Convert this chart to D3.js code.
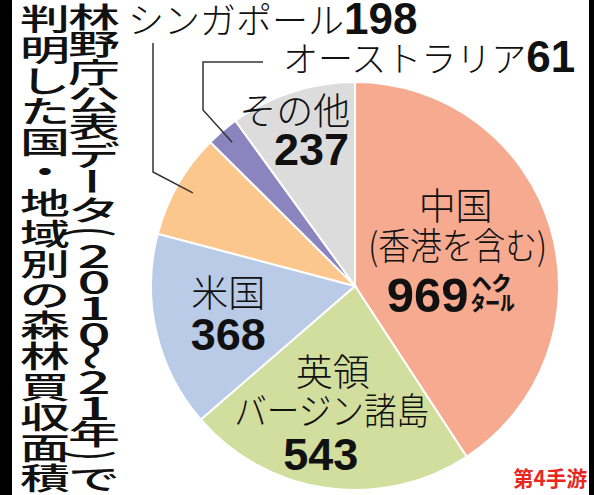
<!DOCTYPE html>
<html>
<head>
<meta charset="utf-8">
<script src="https://cdn.jsdelivr.net/npm/d3@7"></script>
<style>
body { margin: 0; background: #fff; }
svg { display: block; }
</style>
</head>
<body>
<svg></svg>
<script>
var width = 594,
	height = 495;

// data (ha, 2010-21)
var names = ["中国", "英領バージン諸島", "米国", "シンガポール", "オーストラリア", "その他"];
var values = [969, 543, 368, 198, 61, 237];
var colors = ["#f6aa90", "#d2de9d", "#b9cbe7", "#fcc78c", "#8b84bf", "#dcdcdc"];
var titleRight = "林野庁公表データ(2010〜21年)で";
var titleLeft = "判明した国・地域別の森林買収面積";
var unit = ["ヘク", "タール"];
var watermark = "第4手游";

var cx = 355,
	cy = 286,
	radius = 204;

var svg = d3.select("svg").attr("width", width).attr("height", height);

svg.append("rect").attr("width", width).attr("height", height).attr("fill", "#fff");
// black strips on both edges
svg.append("rect").attr("x", 0).attr("width", 12).attr("height", height).attr("fill", "#000");
svg.append("rect").attr("x", 589).attr("width", 5).attr("height", height).attr("fill", "#000");

var data = names.map(function (n, i) {
	return { name: n, value: values[i], color: colors[i] };
});

var pie = d3.pie().sort(null).value(function (d) { return d.value; });
var arcs = pie(data);
var arc = d3.arc().innerRadius(0).outerRadius(radius);

var g = svg.append("g").attr("transform", "translate(" + cx + "," + cy + ")");

g.selectAll("path.slice")
	.data(arcs)
	.enter()
	.append("path")
	.attr("class", "slice")
	.attr("d", arc)
	.attr("fill", function (d) { return d.data.color; })
	.attr("stroke", "#fff")
	.attr("stroke-width", 2);

var jp = "'Noto Sans CJK JP', sans-serif";
var num = "'Liberation Sans', Arial, sans-serif";

// label layout: radius of anchor point + line offsets from it
var inside = {
	"中国": { r: 105, lines: [
		{ t: "中国", dx: 0, dy: -36 },
		{ t: "(香港を含む)", dx: 2, dy: 4, len: 179 },
		{ t: "969", dx: -69, dy: 56, bold: true, anchor: "start", size: 49 }
	] },
	"英領バージン諸島": { r: 125, lines: [
		{ t: "英領", dx: -5, dy: -24 },
		{ t: "バージン諸島", dx: -6, dy: 15, len: 195 },
		{ t: "543", dx: -17, dy: 60, bold: true }
	] },
	"米国": { r: 130, lines: [
		{ t: "米国", dx: 0, dy: -8 },
		{ t: "368", dx: 0, dy: 35, bold: true }
	] },
	"その他": { r: 165, lines: [
		{ t: "その他", dx: 46, dy: -4, anchor: "end" },
		{ t: "237", dx: 45, dy: 36, bold: true, anchor: "end" }
	] }
};

arcs.forEach(function (d) {
	var spec = inside[d.data.name];
	if (!spec) return;
	var c = d3.arc().innerRadius(spec.r).outerRadius(spec.r).centroid(d);
	spec.lines.forEach(function (l) {
		var t = g.append("text")
			.attr("x", c[0] + l.dx)
			.attr("y", c[1] + l.dy)
			.attr("text-anchor", l.anchor || "middle")
			.style("font-family", l.bold ? num : jp)
			.style("font-weight", l.bold ? 700 : 300)
			.style("font-size", (l.size || (l.bold ? 45 : 37)) + "px")
			.style("fill", "#111")
			.text(l.t);
		if (l.len) t.attr("textLength", l.len).attr("lengthAdjust", "spacingAndGlyphs");
	});
	if (d.data.name == "中国") {
		// unit "ヘクタール" stacked in two rows after the number
		g.append("text")
			.attr("x", c[0] + 16).attr("y", c[1] + 35)
			.attr("textLength", 40).attr("lengthAdjust", "spacingAndGlyphs")
			.style("font-family", jp).style("font-weight", 900).style("font-size", "20px")
			.style("fill", "#111").text(unit[0]);
		g.append("text")
			.attr("x", c[0] + 15).attr("y", c[1] + 55)
			.attr("textLength", 44).attr("lengthAdjust", "spacingAndGlyphs")
			.style("font-family", jp).style("font-weight", 900).style("font-size", "20px")
			.style("fill", "#111").text(unit[1]);
	}
});

// outside labels with leader lines
var outside = {
	"シンガポール": { r: 187, elbows: [[153 - cx, 172 - cy], [153 - cx, 43 - cy]], x: 128, y: 34, size: 36 },
	"オーストラリア": { r: 189, elbows: [[203 - cx, 110 - cy], [203 - cx, 62 - cy], [263 - cx, 62 - cy]], x: 283, y: 72, size: 35 }
};

arcs.forEach(function (d) {
	var spec = outside[d.data.name];
	if (!spec) return;
	var c = d3.arc().innerRadius(spec.r).outerRadius(spec.r).centroid(d);
	g.append("path")
		.attr("d", d3.line()([c].concat(spec.elbows)))
		.attr("fill", "none")
		.attr("stroke", "#333")
		.attr("stroke-width", 1.5);
	var t = svg.append("text")
		.attr("x", spec.x)
		.attr("y", spec.y)
		.style("fill", "#111");
	t.append("tspan").style("font-family", jp).style("font-weight", 300).style("font-size", spec.size + "px").text(d.data.name);
	t.append("tspan").style("font-family", num).style("font-weight", 700).style("font-size", "44px").text(d.data.value);
});

// vertical title, two columns (right one read first)
var rotated = "()〜ー";
function advance(ch, base) {
	if (ch == "(" || ch == ")") return 18;
	if (ch == "〜") return 22;
	if (/[0-9]/.test(ch)) return 26;
	return base;
}
function column(text, x, y0, base, size, sy) {
	var y = y0;
	text.split("").forEach(function (ch) {
		var a = advance(ch, base);
		var isDigit = /[0-9]/.test(ch);
		svg.append("text")
			.attr("transform", "translate(" + x + "," + (y + a / 2) + ") scale(1," + sy + ")" +
				(rotated.indexOf(ch) >= 0 ? " rotate(90)" : ""))
			.attr("text-anchor", "middle")
			.attr("dominant-baseline", "central")
			.style("font-family", jp)
			.style("font-weight", 500)
			.style("font-size", (isDigit ? size * 1.12 : size) + "px")
			.style("fill", "#111")
			.text(ch);
		y += a;
	});
}
column(titleRight, 94, 2, 27.6, 52, 0.54);
column(titleLeft, 45, 2, 30.6, 50, 0.6);

// watermark
svg.append("text")
	.attr("x", 513)
	.attr("y", 486)
	.attr("textLength", 74)
	.attr("lengthAdjust", "spacingAndGlyphs")
	.style("font-family", "'Noto Sans CJK SC', sans-serif")
	.style("font-weight", 700)
	.style("font-size", "21px")
	.style("fill", "#e8281e")
	.text(watermark);
</script>
</body>
</html>
